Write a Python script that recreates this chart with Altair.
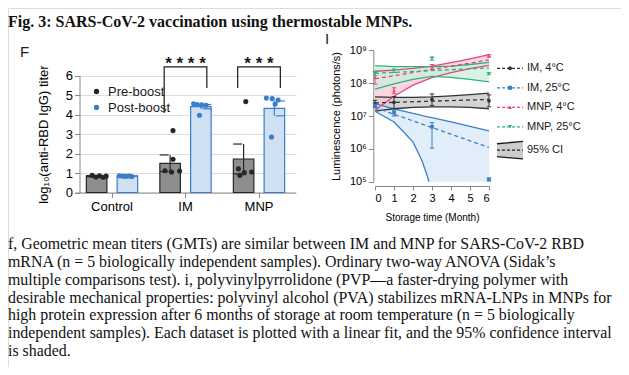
import altair as alt
import pandas as pd

SANS = "Liberation Sans, Arial, sans-serif"
SERIF = "Liberation Serif, Times New Roman, serif"
INK = "#1a1a1a"

# ---------------- texts ----------------
fig_title = "Fig. 3: SARS-CoV-2 vaccination using thermostable MNPs."
caption_lines = [
    "f, Geometric mean titers (GMTs) are similar between IM and MNP for SARS-CoV-2 RBD",
    "mRNA (n = 5 biologically independent samples). Ordinary two-way ANOVA (Sidak\u2019s",
    "multiple comparisons test). i, polyvinylpyrrolidone (PVP\u2014a faster-drying polymer with",
    "desirable mechanical properties: polyvinyl alcohol (PVA) stabilizes mRNA-LNPs in MNPs for",
    "high protein expression after 6 months of storage at room temperature (n = 5 biologically",
    "independent samples). Each dataset is plotted with a linear fit, and the 95% confidence interval",
    "is shaded.",
]

# ---------------- panel F data ----------------
f_groups = ["Control", "IM", "MNP"]
f_boosts = ["Pre-boost", "Post-boost"]
bar_group = ["Control", "Control", "IM", "IM", "MNP", "MNP"]
bar_boost = ["Pre-boost", "Post-boost"] * 3
bar_mean = [0.84, 0.84, 1.50, 4.41, 1.72, 4.32]
bar_sem = [0.03, 0.01, 0.43, 0.11, 0.77, 0.38]

dot_group = ["Control"] * 10 + ["IM"] * 10 + ["MNP"] * 10
dot_boost = (["Pre-boost"] * 5 + ["Post-boost"] * 5) * 3
dot_value = [0.88, 0.80, 0.86, 0.78, 0.84, 0.86, 0.84, 0.83, 0.85, 0.82,
             3.18, 1.71, 1.12, 1.05, 1.10, 4.56, 4.52, 4.50, 4.48, 3.97,
             4.67, 1.22, 1.02, 1.05, 0.88, 4.85, 4.82, 4.75, 4.55, 2.85]
dot_jitter = [0.23, 0.28, 0.33, 0.38, 0.42, 0.60, 0.65, 0.69, 0.73, 0.77,
              0.33, 0.33, 0.22, 0.31, 0.42, 0.61, 0.66, 0.72, 0.78, 0.69,
              0.32, 0.22, 0.30, 0.40, 0.24, 0.60, 0.68, 0.76, 0.72, 0.67]

sig_group = ["IM", "MNP"]
sig_stars = ["* * * *", "* * *"]
sig_left_foot = [4.09, 5.37]
sig_right_foot = [5.37, 5.37]
sig_top = [6.45, 6.45]

# ---------------- panel I data ----------------
i_series = ["IM, 4\u00b0C", "IM, 25\u00b0C", "MNP, 4\u00b0C", "MNP, 25\u00b0C"]
i_colors = ["#333333", "#3a7fcb", "#e4477f", "#2fb37e"]
i_band_colors = ["#c4c4c4", "#d6e6f6", "#f6c9d5", "#c9eedc"]
i_shapes = ["circle", "square", "triangle-up", "triangle-down"]

obs_month = [0, 1, 3, 6]
obs_mean = {
    "IM, 4\u00b0C": [2.4e7, 2.6e7, 3.2e7, 2.9e7],
    "IM, 25\u00b0C": [2.1e7, 1.26e7, 4.7e6, 1.17e5],
    "MNP, 4\u00b0C": [1.5e8, 5.9e7, 3.2e8, 6.8e8],
    "MNP, 25\u00b0C": [2.0e8, 2.4e8, 5.6e8, 1.95e8],
}
obs_lo = {
    "IM, 4\u00b0C": [1.9e7, 1.7e7, 2.1e7, 1.9e7],
    "IM, 25\u00b0C": [1.8e7, 1.0e7, 1.05e6, 1.06e5],
    "MNP, 4\u00b0C": [9.3e7, 4.8e7, 2.6e8, 6.2e8],
    "MNP, 25\u00b0C": [1.7e8, 2.1e8, 5.0e8, 1.8e8],
}
obs_hi = {
    "IM, 4\u00b0C": [3.0e7, 3.9e7, 4.7e7, 4.4e7],
    "IM, 25\u00b0C": [2.4e7, 1.5e7, 6.3e6, 1.3e5],
    "MNP, 4\u00b0C": [2.2e8, 7.2e7, 3.7e8, 7.4e8],
    "MNP, 25\u00b0C": [2.3e8, 2.7e8, 6.3e8, 2.1e8],
}

fit_month = [0, 6]
fit_value = {
    "IM, 4\u00b0C": [2.5e7, 3.2e7],
    "IM, 25\u00b0C": [1.8e7, 1.1e6],
    "MNP, 4\u00b0C": [1.35e8, 5.1e8],
    "MNP, 25\u00b0C": [2.0e8, 2.9e8],
}

band_month = {
    "IM, 4\u00b0C": [0, 1, 2, 3, 4, 5, 6],
    "IM, 25\u00b0C": [0, 1, 1.5, 2, 2.3, 2.5, 2.65, 2.75, 2.84, 3, 4, 5, 6],
    "MNP, 4\u00b0C": [0, 1, 2, 3, 4, 5, 6],
    "MNP, 25\u00b0C": [0, 1, 2, 3, 4, 5, 6],
}
band_upper = {
    "IM, 4\u00b0C": [3.8e7, 3.7e7, 3.7e7, 3.8e7, 4.1e7, 4.5e7, 5.0e7],
    "IM, 25\u00b0C": [2.4e7, 1.66e7, 1.41e7, 1.2e7, 1.1e7, 1.02e7, 9.8e6, 9.5e6, 9.3e6,
                      8.9e6, 6.6e6, 4.8e6, 3.5e6],
    "MNP, 4\u00b0C": [2.3e8, 2.5e8, 2.8e8, 3.3e8, 4.2e8, 5.5e8, 7.4e8],
    "MNP, 25\u00b0C": [3.4e8, 3.2e8, 3.2e8, 3.2e8, 3.3e8, 3.7e8, 4.3e8],
}
band_lower = {
    "IM, 4\u00b0C": [1.4e7, 1.66e7, 1.82e7, 1.9e7, 1.9e7, 1.82e7, 1.66e7],
    "IM, 25\u00b0C": [1.4e7, 6.6e6, 3.3e6, 1.6e6, 7.1e5, 4.0e5, 2.2e5, 1.5e5, 1.0e5,
                      1.0e5, 1.0e5, 1.0e5, 1.0e5],
    "MNP, 4\u00b0C": [1.5e7, 4.0e7, 8.7e7, 1.48e8, 2.1e8, 2.75e8, 3.5e8],
    "MNP, 25\u00b0C": [6.6e7, 9.5e7, 1.3e8, 1.6e8, 1.5e8, 1.3e8, 1.1e8],
}
axis_floor = 1e5

# ---------------- frames ----------------
bar_df = pd.DataFrame({"group": bar_group, "boost": bar_boost, "mean": bar_mean, "sem": bar_sem})
bar_df["lo"] = bar_df["mean"] - bar_df["sem"]
bar_df["hi"] = bar_df["mean"] + bar_df["sem"]
dot_df = pd.DataFrame({"group": dot_group, "boost": dot_boost, "value": dot_value, "jitter": dot_jitter})
br_rows = []
for g, lf, rf, tp in zip(sig_group, sig_left_foot, sig_right_foot, sig_top):
    br_rows += [
        {"group": g, "boost": "Pre-boost", "y": lf, "o": 0},
        {"group": g, "boost": "Pre-boost", "y": tp, "o": 1},
        {"group": g, "boost": "Post-boost", "y": tp, "o": 2},
        {"group": g, "boost": "Post-boost", "y": rf, "o": 3},
    ]
br_df = pd.DataFrame(br_rows)
star_df = pd.DataFrame({"group": sig_group, "stars": sig_stars, "y": sig_top})

obs_rows, fit_rows, band_rows = [], [], []
for s in i_series:
    for m, v, lo, hi in zip(obs_month, obs_mean[s], obs_lo[s], obs_hi[s]):
        obs_rows.append({"series": s, "month": m, "v": v, "lo": lo, "hi": hi})
    for m, v in zip(fit_month, fit_value[s]):
        fit_rows.append({"series": s, "month": m, "v": v})
    for m, up, lw in zip(band_month[s], band_upper[s], band_lower[s]):
        band_rows.append({"series": s, "month": m, "upper": up, "lower": lw})
obs_df = pd.DataFrame(obs_rows)
fit_df = pd.DataFrame(fit_rows)
band_df = pd.DataFrame(band_rows)
# lower edge drawn only until it leaves the axis
low_line_rows = []
for s in i_series:
    sub = band_df[band_df.series == s]
    for _, r in sub.iterrows():
        low_line_rows.append(r.to_dict())
        if r["lower"] <= axis_floor:
            break
low_line_df = pd.DataFrame(low_line_rows)

# ---------------- panel F ----------------
fx_scale = alt.Scale(domain=f_groups, range=[67.25, 287.75], paddingInner=0, paddingOuter=0)
fy_scale = alt.Scale(domain=[0, 6], range=[184.5, 67.7], nice=False, zero=True)
off_band = alt.Scale(domain=f_boosts, range=[0, 73.5], paddingInner=0.333, paddingOuter=0.361)
off_q = alt.Scale(domain=[0, 1], range=[0, 73.5])
fx_axis = alt.Axis(orient="bottom", offset=-174.5, title=None, labelFontSize=13, tickSize=5,
                   labelPadding=3, labelAngle=0)
fy_axis = alt.Axis(orient="left", offset=-71.5, values=[0, 1, 2, 3, 4, 5, 6],
                   title="log\u2081\u2080(anti-RBD IgG) titer", titleFontSize=13, titlePadding=15,
                   titleFontWeight="normal", labelFontSize=13, tickSize=5, labelPadding=2)
f_fill = alt.Scale(domain=f_boosts, range=["#8e8e8e", "#cfe0f3"])
f_stroke = alt.Scale(domain=f_boosts, range=["#262626", "#3b7dcc"])
f_color = alt.Scale(domain=f_boosts, range=["#262626", "#3b7dcc"])

FX = alt.X("group:N", scale=fx_scale, axis=fx_axis)
FXO = alt.XOffset("boost:N", scale=off_band)

bars = alt.Chart(bar_df).mark_bar(strokeWidth=1.2).encode(
    x=FX, xOffset=FXO,
    y=alt.Y("mean:Q", scale=fy_scale, axis=fy_axis),
    fill=alt.Fill("boost:N", scale=f_fill, legend=None),
    stroke=alt.Stroke("boost:N", scale=f_stroke, legend=None),
)
err = alt.Chart(bar_df).mark_rule(strokeWidth=1.2).encode(
    x=FX, xOffset=FXO,
    y=alt.Y("lo:Q", scale=fy_scale, axis=fy_axis), y2="hi:Q",
    stroke=alt.Stroke("boost:N", scale=f_stroke, legend=None),
)
cap_hi = alt.Chart(bar_df).mark_point(shape="stroke", size=81, strokeWidth=1.2, filled=False, opacity=1).encode(
    x=FX, xOffset=FXO,
    y=alt.Y("hi:Q", scale=fy_scale, axis=fy_axis),
    stroke=alt.Stroke("boost:N", scale=f_stroke, legend=None),
)
cap_lo = alt.Chart(bar_df).mark_point(shape="stroke", size=81, strokeWidth=1.2, filled=False, opacity=1).encode(
    x=FX, xOffset=FXO,
    y=alt.Y("lo:Q", scale=fy_scale, axis=fy_axis),
    stroke=alt.Stroke("boost:N", scale=f_stroke, legend=None),
)
dots = alt.Chart(dot_df).mark_circle(size=26, opacity=1).encode(
    x=FX, xOffset=alt.XOffset("jitter:Q", scale=off_q),
    y=alt.Y("value:Q", scale=fy_scale, axis=fy_axis),
    color=alt.Color("boost:N", scale=f_color, legend=alt.Legend(
        orient="none", legendX=82, legendY=77, title=None, symbolType="circle", symbolSize=28,
        labelFont=SANS, labelFontSize=13, labelColor=INK, rowPadding=2, padding=0, labelOffset=5,
        symbolStrokeWidth=0)),
)
bracket = alt.Chart(br_df).mark_line(color=INK, strokeWidth=1.2).encode(
    x=FX, xOffset=FXO,
    y=alt.Y("y:Q", scale=fy_scale, axis=fy_axis),
    detail="group:N", order="o:Q",
)
stars = alt.Chart(star_df).mark_text(font=SANS, fontSize=17, fontWeight="bold", baseline="alphabetic",
                                     align="center", dy=2.5, color=INK).encode(
    x=FX, y=alt.Y("y:Q", scale=fy_scale, axis=fy_axis), text="stars:N",
)
panel_f = alt.layer(bars, err, cap_hi, cap_lo, dots, bracket, stars).resolve_scale(xOffset="independent")

# ---------------- panel I ----------------
ix_scale = alt.Scale(domain=[0, 6], range=[367, 481], nice=False, zero=False)
iy_scale = alt.Scale(type="log", domain=[1e5, 1e9], range=[173.7, 42.3], nice=False)
ix_axis = alt.Axis(orient="bottom", offset=-181, values=[0, 1, 2, 3, 4, 5, 6], format="d",
                   title="Storage time (Month)", titleFontSize=10, titlePadding=9,
                   titleFontWeight="normal", labelFontSize=11, tickSize=4, labelPadding=2)
sup = "['\u2070','\u00b9','\u00b2','\u00b3','\u2074','\u2075','\u2076','\u2077','\u2078','\u2079']"
iy_axis = alt.Axis(orient="left", offset=-365.3, values=[1e5, 1e6, 1e7, 1e8, 1e9],
                   labelExpr="'10' + " + sup + "[round(log(datum.value)/LN10)]",
                   title="Luminescence (photons/s)", titleFontSize=11, titlePadding=8,
                   titleFontWeight="normal", labelFontSize=11, tickSize=5, labelPadding=2)
i_col = alt.Scale(domain=i_series, range=i_colors)
i_bandcol = alt.Scale(domain=i_series, range=i_band_colors)
i_shape = alt.Scale(domain=i_series, range=i_shapes)
IX = alt.X("month:Q", scale=ix_scale, axis=ix_axis)

def IY(field):
    return alt.Y(field, scale=iy_scale, axis=iy_axis)

areas = alt.Chart(band_df).mark_area(opacity=0.72).encode(
    x=IX, y=IY("lower:Q"), y2="upper:Q",
    fill=alt.Fill("series:N", scale=i_bandcol, legend=None),
)
up_lines = alt.Chart(band_df).mark_line(strokeWidth=1.3).encode(
    x=IX, y=IY("upper:Q"), stroke=alt.Stroke("series:N", scale=i_col, legend=None), detail="series:N",
)
low_lines = alt.Chart(low_line_df).mark_line(strokeWidth=1.3).encode(
    x=IX, y=IY("lower:Q"), stroke=alt.Stroke("series:N", scale=i_col, legend=None), detail="series:N",
)
fits = alt.Chart(fit_df).mark_line(strokeWidth=1.3, strokeDash=[4, 3]).encode(
    x=IX, y=IY("v:Q"), stroke=alt.Stroke("series:N", scale=i_col, legend=None), detail="series:N",
)
obs_err = alt.Chart(obs_df).mark_rule(strokeWidth=1).encode(
    x=IX, y=IY("lo:Q"), y2="hi:Q", stroke=alt.Stroke("series:N", scale=i_col, legend=None),
)
obs_cap_lo = alt.Chart(obs_df).mark_point(shape="stroke", size=20, filled=False, strokeWidth=1, opacity=1).encode(
    x=IX, y=IY("lo:Q"), stroke=alt.Stroke("series:N", scale=i_col, legend=None),
)
obs_cap_hi = alt.Chart(obs_df).mark_point(shape="stroke", size=20, filled=False, strokeWidth=1, opacity=1).encode(
    x=IX, y=IY("hi:Q"), stroke=alt.Stroke("series:N", scale=i_col, legend=None),
)
obs_pts = alt.Chart(obs_df).mark_point(filled=True, size=14, opacity=1).encode(
    x=IX, y=IY("v:Q"),
    fill=alt.Fill("series:N", scale=i_col, legend=None),
    shape=alt.Shape("series:N", scale=i_shape, legend=None),
)
panel_i = alt.layer(areas, up_lines, low_lines, fits, obs_err, obs_cap_lo, obs_cap_hi, obs_pts).resolve_scale(
    fill="independent")

# ---------------- panel I legend (drawn from the series list) ----------------
ci_label = "95% CI"
leg_rows = list(range(len(i_series)))
ci_row = 4.2
lx = alt.Scale(domain=[0, 1], range=[489, 515])
ly = alt.Scale(domain=[0, 4], range=[60.3, 138.3])
leg_line_df = pd.DataFrame([{"series": s, "row": r, "x": x} for s, r in zip(i_series, leg_rows) for x in (0, 1)])
leg_pt_df = pd.DataFrame([{"series": s, "row": r, "x": 0.5} for s, r in zip(i_series, leg_rows)])
leg_lab_df = pd.DataFrame({"label": i_series + [ci_label], "row": leg_rows + [ci_row], "x": 1})
ci_df = pd.DataFrame({"x": [0, 1], "top": [ci_row - 0.33, ci_row - 0.45],
                      "bot": [ci_row + 0.33, ci_row + 0.45], "mid": [ci_row, ci_row]})
LX = alt.X("x:Q", scale=lx, axis=None)

def LY(field):
    return alt.Y(field, scale=ly, axis=None)

leg_lines = alt.Chart(leg_line_df).mark_line(strokeWidth=1.2, strokeDash=[3, 2]).encode(
    x=LX, y=LY("row:Q"), stroke=alt.Stroke("series:N", scale=i_col, legend=None), detail="series:N")
leg_pts = alt.Chart(leg_pt_df).mark_point(filled=True, size=16, opacity=1).encode(
    x=LX, y=LY("row:Q"), fill=alt.Fill("series:N", scale=i_col, legend=None),
    shape=alt.Shape("series:N", scale=i_shape, legend=None))
ci_area = alt.Chart(ci_df).mark_area(color="#cccccc").encode(x=LX, y=LY("top:Q"), y2="bot:Q")
ci_top = alt.Chart(ci_df).mark_line(color=INK, strokeWidth=1.3).encode(x=LX, y=LY("top:Q"))
ci_bot = alt.Chart(ci_df).mark_line(color=INK, strokeWidth=1.3).encode(x=LX, y=LY("bot:Q"))
ci_mid = alt.Chart(ci_df).mark_line(color=INK, strokeWidth=1.2, strokeDash=[3, 2]).encode(x=LX, y=LY("mid:Q"))
leg_text = alt.Chart(leg_lab_df).mark_text(align="left", baseline="middle", dx=4, font=SANS,
                                           fontSize=11, color=INK).encode(
    x=LX, y=LY("row:Q"), text="label:N")
legend_i = alt.layer(leg_lines, leg_pts, ci_area, ci_top, ci_bot, ci_mid, leg_text)

# ---------------- captions / labels ----------------
cap_df = pd.DataFrame({"line": list(range(len(caption_lines))), "text": caption_lines})
caption = alt.Chart(cap_df).mark_text(align="left", baseline="middle", font=SERIF, fontSize=15.9,
                                      color="#111111").encode(
    x=alt.value(0),
    y=alt.Y("line:Q", scale=alt.Scale(domain=[0, 6], range=[236, 343]), axis=None),
    text="text:N")
title = alt.Chart(pd.DataFrame({"t": [fig_title]})).mark_text(
    align="left", baseline="middle", font=SERIF, fontSize=16, fontWeight="bold", color="#111111").encode(
    x=alt.value(0), y=alt.value(13.7), text="t:N")
lab_f = alt.Chart(pd.DataFrame({"t": ["F"]})).mark_text(
    align="left", baseline="middle", font=SANS, fontSize=15, color=INK).encode(
    x=alt.value(12), y=alt.value(44), text="t:N")
lab_i = alt.Chart(pd.DataFrame({"t": ["I"]})).mark_text(
    align="left", baseline="middle", font=SANS, fontSize=15, color=INK).encode(
    x=alt.value(317), y=alt.value(31), text="t:N")

chart = alt.layer(panel_f, panel_i, legend_i, caption, title, lab_f, lab_i).resolve_scale(
    x="independent", y="independent", fill="independent",
    stroke="independent", shape="independent",
).properties(
    width=613, height=359, padding=0, autosize=alt.AutoSizeParams(type="none"),
).configure_axis(
    grid=False, domainColor=INK, tickColor=INK, labelColor=INK, titleColor=INK,
    labelFont=SANS, titleFont=SANS, titleFontWeight="normal", domainWidth=1, tickWidth=1,
).configure_view(strokeWidth=0).configure(background="white")

chart.save("out.html", embed_options={"renderer": "svg", "actions": False})
